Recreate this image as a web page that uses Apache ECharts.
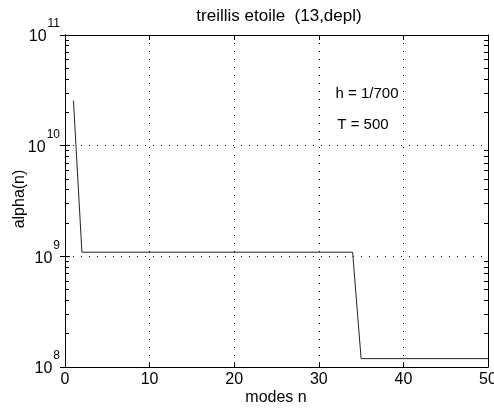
<!DOCTYPE html>
<html>
<head>
<meta charset="utf-8">
<script src="https://cdn.jsdelivr.net/npm/echarts@6/dist/echarts.min.js"></script>
<style>
  html, body { margin: 0; padding: 0; background: #fff; }
  #container { width: 494px; height: 409px; }
</style>
</head>
<body>
<div id="container"></div>
<script>
// breakpoints of the curve (n, alpha(n))
var modes = [1, 2, 34, 35, 50];
var alpha = [2.55e10, 1.09e9, 1.09e9, 1.19e8, 1.19e8];
var xTicks = [0, 10, 20, 30, 40, 50];
var decades = [8, 9, 10, 11];

var font = 'Liberation Sans, Arial, sans-serif';

// minor log ticks (2..9 x 10^d), in exponent units
var minorTicks = [];
for (var d = 8; d < 11; d++) {
  for (var k = 2; k < 10; k++) {
    minorTicks.push(d + Math.log10(k));
  }
}

var dotted = { color: '#000', width: 1, type: [1, 7] };

var dom = document.getElementById('container');
var myChart = echarts.init(dom, null, { renderer: 'canvas' });

var option = {
  animation: false,
  backgroundColor: '#fff',
  grid: { left: 65, right: 6, top: 35, bottom: 42, outerBoundsMode: 'none', containLabel: false },
  xAxis: [
    {
      type: 'value',
      min: xTicks[0],
      max: xTicks[xTicks.length - 1],
      interval: 10,
      position: 'bottom',
      axisLine: { lineStyle: { color: '#000', width: 1 } },
      axisTick: { inside: true, length: 5, lineStyle: { color: '#000' } },
      axisLabel: { color: '#000', fontFamily: font, fontSize: 16, margin: 5, showMaxLabel: true, hideOverlap: false },
      splitLine: { show: true, lineStyle: dotted }
    },
    {
      type: 'value',
      min: xTicks[0],
      max: xTicks[xTicks.length - 1],
      interval: 10,
      position: 'top',
      axisLine: { lineStyle: { color: '#000', width: 1 } },
      axisTick: { inside: true, length: 5, lineStyle: { color: '#000' } },
      axisLabel: { show: false },
      splitLine: { show: false }
    }
  ],
  yAxis: [
    {
      type: 'log',
      logBase: 10,
      min: Math.pow(10, decades[0]),
      max: Math.pow(10, decades[decades.length - 1]),
      splitNumber: 3,
      position: 'left',
      axisLine: { show: true, lineStyle: { color: '#000', width: 1 } },
      axisTick: { inside: true, length: 5, lineStyle: { color: '#000' } },
      axisLabel: {
        color: '#000',
        margin: 5,
        formatter: function (v) {
          var e = Math.round(Math.log10(v));
          return '{b|10}{e|' + e + '}';
        },
        rich: {
          b: { fontFamily: font, fontSize: 16, color: '#000', padding: [4, 0, 0, 0] },
          e: { fontFamily: font, fontSize: 12, color: '#000', padding: [0, 0, 22, 1] }
        }
      },
      splitLine: { show: true, lineStyle: dotted }
    },
    {
      type: 'log',
      logBase: 10,
      min: Math.pow(10, decades[0]),
      max: Math.pow(10, decades[decades.length - 1]),
      splitNumber: 3,
      position: 'right',
      axisLine: { show: true, lineStyle: { color: '#000', width: 1 } },
      axisTick: { inside: true, length: 5, lineStyle: { color: '#000' } },
      axisLabel: { show: false },
      splitLine: { show: false }
    },
    {
      // minor log ticks, left
      type: 'value',
      min: decades[0],
      max: decades[decades.length - 1],
      position: 'left',
      axisLine: { show: true, lineStyle: { color: '#000', width: 1 } },
      axisTick: { show: true, inside: true, length: 4, customValues: minorTicks, lineStyle: { color: '#000', width: 1 } },
      axisLabel: { show: false },
      splitLine: { show: false }
    },
    {
      // minor log ticks, right
      type: 'value',
      min: decades[0],
      max: decades[decades.length - 1],
      position: 'right',
      axisLine: { show: true, lineStyle: { color: '#000', width: 1 } },
      axisTick: { show: true, inside: true, length: 4, customValues: minorTicks, lineStyle: { color: '#000', width: 1 } },
      axisLabel: { show: false },
      splitLine: { show: false }
    }
  ],
  series: [
    {
      type: 'line',
      xAxisIndex: 0,
      yAxisIndex: 0,
      showSymbol: false,
      symbol: 'none',
      lineStyle: { color: '#222', width: 1 },
      data: modes.map(function (n, i) { return [n, alpha[i]]; })
    }
  ],
  graphic: [
    {
      type: 'text', x: 279, y: 16,
      style: { text: 'treillis etoile  (13,depl)', fill: '#000', font: '17px ' + font, textAlign: 'center', textVerticalAlign: 'middle' }
    },
    {
      type: 'text', x: 276, y: 398,
      style: { text: 'modes n', fill: '#000', font: '16px ' + font, textAlign: 'center', textVerticalAlign: 'middle' }
    },
    {
      type: 'text', x: 20, y: 199, rotation: Math.PI / 2,
      style: { text: 'alpha(n)', fill: '#000', font: '16px ' + font, textAlign: 'center', textVerticalAlign: 'middle' }
    },
    {
      type: 'text', x: 367, y: 94,
      style: { text: 'h = 1/700', fill: '#000', font: '15px ' + font, textAlign: 'center', textVerticalAlign: 'middle' }
    },
    {
      type: 'text', x: 363, y: 125,
      style: { text: 'T = 500', fill: '#000', font: '15px ' + font, textAlign: 'center', textVerticalAlign: 'middle' }
    }
  ]
};

if (option && typeof option === 'object') {
  myChart.setOption(option);
}
</script>
</body>
</html>
